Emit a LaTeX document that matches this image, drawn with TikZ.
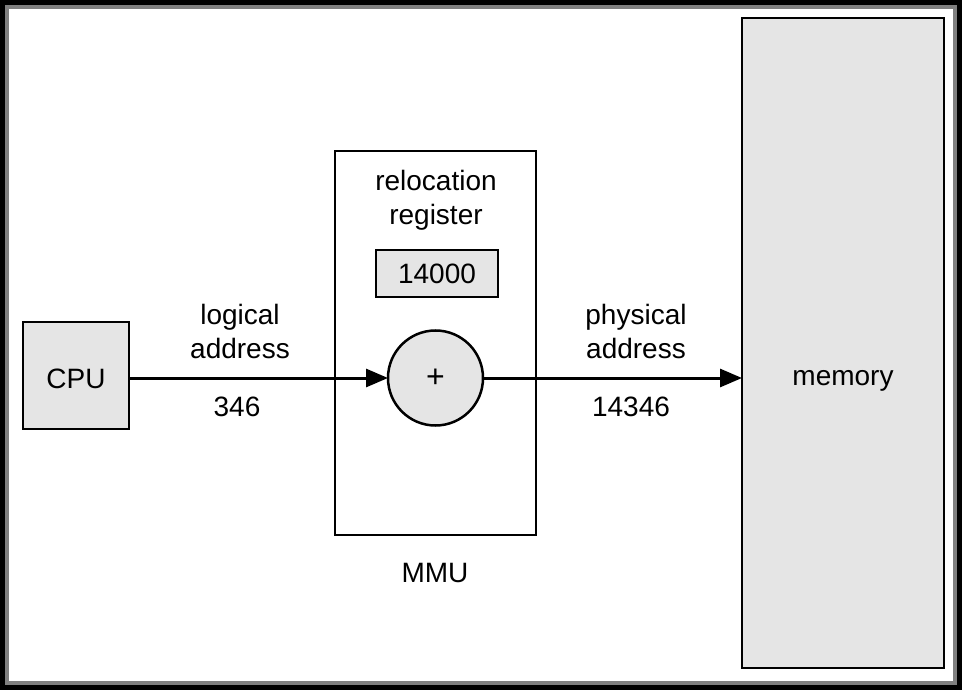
\documentclass[tikz,border=0pt]{standalone}
\usepackage{fontspec}
\setmainfont{Liberation Sans}
\usetikzlibrary{arrows.meta}
\definecolor{boxgray}{gray}{0.90}
\definecolor{framegray}{gray}{0.50}
\begin{document}
\begin{tikzpicture}[x=1pt,y=-1pt,
  lbl/.style={font=\fontsize{28}{34}\selectfont, align=center, inner sep=0pt},
  box/.style={draw=black, line width=2.5pt, inner sep=0pt, outer sep=0pt, anchor=north west},
  flow/.style={line width=3pt, -{Triangle[length=22pt,width=18pt]}}]
\useasboundingbox (0,0) rectangle (962,690);
\fill[white] (0,0) rectangle (962,690);
% frame
\draw[black, line width=5pt] (2.5,2.5) rectangle (959.5,687.5);
\draw[framegray, line width=4pt] (7,7) rectangle (955,683);
% memory
\node[box, fill=boxgray, minimum width=202pt, minimum height=650pt] (mem) at (742,18) {};
\node[lbl] (memt) at (843,381) {memory};
% CPU
\node[box, fill=boxgray, minimum width=106pt, minimum height=107pt] (cpu) at (23,322) {};
\node[lbl] (cput) at (76,379) {CPU};
% MMU
\node[box, fill=white, minimum width=201pt, minimum height=384pt] (mmu) at (335,151) {};
\node[lbl] (rel) at (436,200) {relocation\\register};
\node[box, fill=boxgray, minimum width=122pt, minimum height=47pt] (reg) at (376,250) {};
\node[lbl] (regt) at (reg.center) {14000};
\node[circle, draw=black, line width=2.5pt, fill=boxgray, minimum size=95pt, inner sep=0pt, outer sep=0pt] (add) at (435.5,378) {};
\node[font=\fontsize{32}{34}\selectfont, inner sep=0pt] (plus) at (add.center) {+};
\node[lbl] (mmut) at (435,573) {MMU};
% arrows
\draw[flow] (cpu.east |- add.west) -- (add.west);
\draw[flow] (add.east) -- (mem.west |- add.east);
% labels
\node[lbl] (la) at (240,331) {logical\\address};
\node[lbl] (lv) at (237,407) {346};
\node[lbl] (pa) at (636,331) {physical\\address};
\node[lbl] (pv) at (631,407) {14346};
\end{tikzpicture}
\end{document}
